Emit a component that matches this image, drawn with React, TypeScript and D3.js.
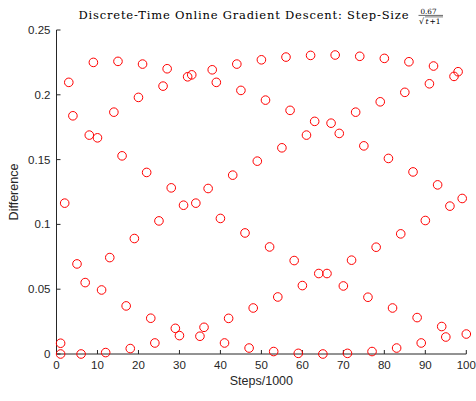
import { useMemo } from "react"
import * as d3 from 'd3'

// step index (in thousands) for each sample
const steps = [
  1, 1, 2, 3, 4, 5, 6, 7, 8, 9, 10,
  11, 12, 13, 14, 15, 16, 17, 18, 19, 20,
  21, 22, 23, 24, 25, 26, 27, 28, 29, 30,
  31, 32, 33, 34, 35, 36, 37, 38, 39, 40,
  41, 42, 43, 44, 45, 46, 47, 48, 49, 50,
  51, 52, 53, 54, 55, 56, 57, 58, 59, 60,
  61, 62, 63, 64, 65, 66, 67, 68, 69, 70,
  71, 72, 73, 74, 75, 76, 77, 78, 79, 80,
  81, 82, 83, 84, 85, 86, 87, 88, 89, 90,
  91, 92, 93, 94, 95, 96, 97, 98, 99, 100,
]

const differences = [
  0.0083, 0.0, 0.1164, 0.2096, 0.1838, 0.0695, 0.0, 0.0551, 0.1689, 0.225, 0.1668,
  0.0494, 0.0011, 0.0744, 0.1866, 0.2258, 0.1529, 0.0371, 0.0042, 0.0891, 0.198,
  0.2237, 0.1401, 0.0276, 0.0085, 0.1027, 0.2067, 0.2201, 0.1282, 0.0198, 0.0142,
  0.1148, 0.2139, 0.2154, 0.1164, 0.0137, 0.0206, 0.1277, 0.2193, 0.2096, 0.1046,
  0.0085, 0.0275, 0.138, 0.2237, 0.2034, 0.0934, 0.0046, 0.0355, 0.1488, 0.227,
  0.1959, 0.0826, 0.0019, 0.044, 0.1591, 0.2291, 0.188, 0.0721, 0.0005, 0.0528,
  0.1689, 0.2304, 0.1795, 0.0621, 0.0, 0.0621, 0.1781, 0.2307, 0.1702, 0.0525,
  0.0005, 0.0724, 0.1866, 0.2297, 0.1606, 0.0438, 0.0019, 0.0824, 0.1946, 0.2281,
  0.1509, 0.0355, 0.0046, 0.0927, 0.2019, 0.2255, 0.1405, 0.0281, 0.0085, 0.103,
  0.2085, 0.2222, 0.1305, 0.0212, 0.0131, 0.1141, 0.2142, 0.2178, 0.12, 0.0154,
]

const xTicks = [0, 10, 20, 30, 40, 50, 60, 70, 80, 90, 100]
const yTicks = [0, 0.05, 0.1, 0.15, 0.2, 0.25]
const yTickLabels = ["0", "0.05", "0.1", "0.15", "0.2", "0.25"]

const axisColor = "#262626"
const sans = "'Liberation Sans', Arial, sans-serif"
const serif = "'DejaVu Serif', 'Liberation Serif', serif"

const App = () => {
  const { xScale, yScale } = useMemo(() => {
    const xScale = d3.scaleLinear().domain([0, 100]).range([56.5, 466.3])
    const yScale = d3.scaleLinear().domain([0, 0.25]).range([354, 30])
    return { xScale, yScale }
  }, [])

  const [x0, x1] = xScale.range()
  const [y0, y1] = yScale.range()

  return (
    <svg
      width={476}
      height={401}
      style={{ position: "absolute", left: 0, top: 0, background: "#fff" }}
    >
      {/* title, latex-ish */}
      <text
        x={78.5}
        y={19}
        fontFamily={serif}
        fontSize={11.5}
        fill="#000"
        textLength={330}
        lengthAdjust="spacing"
      >
        Discrete-Time Online Gradient Descent: Step-Size
      </text>
      <g fontFamily={serif} fill="#000">
        <text x={428.5} y={13.5} fontSize={7.2} textAnchor="middle">0.67</text>
        <line x1={418.5} x2={443} y1={15.4} y2={15.4} stroke="#000" strokeWidth={0.6} />
        <text x={419} y={24} fontSize={8}>√</text>
        <line x1={425} x2={443} y1={16.9} y2={16.9} stroke="#000" strokeWidth={0.5} />
        <text x={425.5} y={23.5} fontSize={7.5} fontStyle="italic">t</text>
        <text x={429.5} y={23.5} fontSize={7.5}>+1</text>
      </g>

      {/* axes */}
      <path d={`M ${x0} ${y1} V ${y0} H ${x1}`} stroke={axisColor} fill="none" strokeWidth={1} />
      {xTicks.map(v => (
        <g key={v} transform={`translate(${xScale(v)}, 0)`}>
          <line y1={y0} y2={y0 - 4} stroke={axisColor} />
          <text
            y={y0 + 15}
            textAnchor="middle"
            fontFamily={sans}
            fontSize={11.5}
            fill={axisColor}
          >
            {v}
          </text>
        </g>
      ))}
      {yTicks.map((v, i) => (
        <g key={v} transform={`translate(0, ${yScale(v)})`}>
          <line x1={x0} x2={x0 + 4} stroke={axisColor} />
          <text
            x={x0 - 6}
            dy="0.35em"
            textAnchor="end"
            fontFamily={sans}
            fontSize={11.5}
            fill={axisColor}
          >
            {yTickLabels[i]}
          </text>
        </g>
      ))}

      {/* axis labels */}
      <text
        x={(x0 + x1) / 2}
        y={385}
        textAnchor="middle"
        fontFamily={sans}
        fontSize={12.5}
        fill={axisColor}
      >
        Steps/1000
      </text>
      <text
        transform={`translate(18, ${(y0 + y1) / 2}) rotate(-90)`}
        textAnchor="middle"
        fontFamily={sans}
        fontSize={12.5}
        fill={axisColor}
      >
        Difference
      </text>

      {/* points */}
      {differences.map((d, i) => (
        <circle
          key={i}
          cx={xScale(steps[i])}
          cy={yScale(d)}
          r={4.3}
          fill="none"
          stroke="#ff0000"
          strokeWidth={1}
        />
      ))}
    </svg>
  )
}

export default App
